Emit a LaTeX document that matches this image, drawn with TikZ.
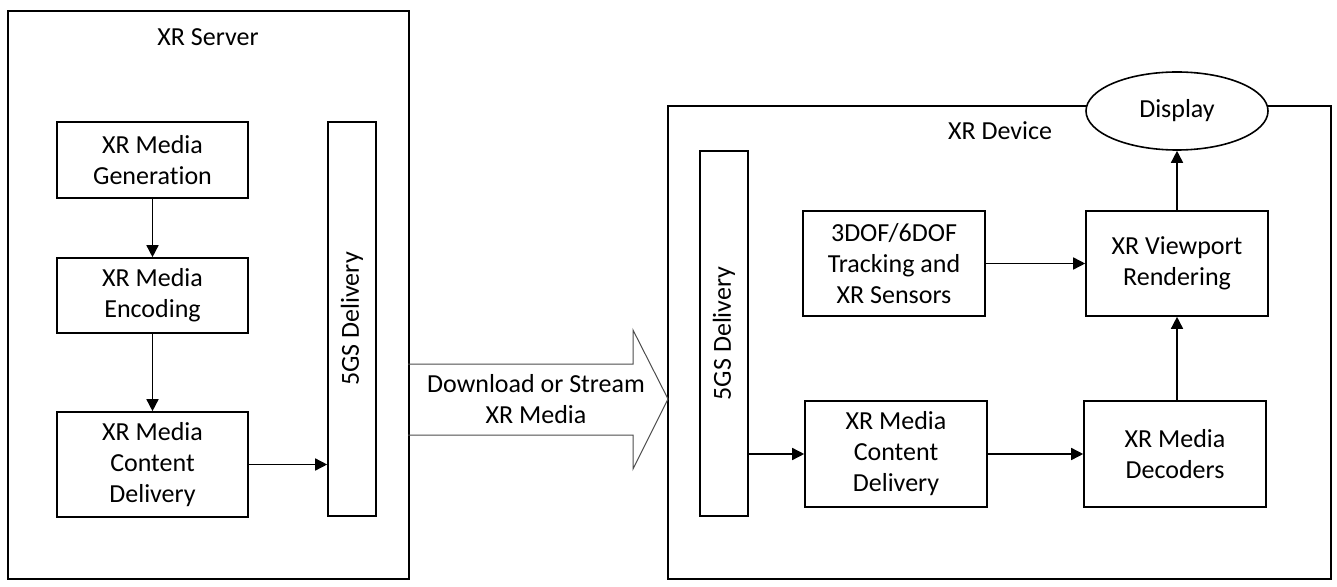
\documentclass[tikz,border=0pt]{standalone}
\usepackage{fontspec}
\setmainfont{Carlito}[Ligatures={NoCommon}]
\usetikzlibrary{arrows.meta,shapes.geometric}

\begin{document}
\begin{tikzpicture}
[x=0.5pt, y=-0.5pt, font=\fontsize{13pt}{15.5pt}\selectfont]

\tikzstyle{block}=[rectangle, draw, line width=0.8pt, align=center, minimum width=91pt, inner sep=0pt]
\tikzstyle{bar}=[rectangle, draw, line width=0.8pt, minimum width=24pt, inner sep=0pt]
\tikzstyle{frame}=[rectangle, draw, line width=0.8pt, inner sep=0pt]
\tikzstyle{flow}=[-{Triangle[length=6pt,width=6pt]}, line width=0.75pt]

\useasboundingbox (0,0) rectangle (1337,587);

% server side
\node[frame]	(SRV)	at (208.5,295)	[minimum width=200.5pt, minimum height=284pt]	{};
\node		(SRVt)	at (208,37)	{XR Server};
\node[block]	(GEN)	at (152.5,160)	[minimum width=95.5pt, minimum height=38pt]	{XR Media\\Generation};
\node[block]	(ENC)	at (152.5,295.5)	[minimum width=95.5pt, minimum height=37.5pt]	{XR Media\\Encoding};
\node[block]	(SCD)	at (152.5,464.5)	[minimum width=95.5pt, minimum height=52.5pt]	{XR Media\\Content\\Delivery};
\node[bar]	(SBAR)	at (352,319)	[minimum height=197pt]	{};
\node[rotate=90]	at (SBAR)	{5GS Delivery};

% device side
\node[frame]	(DEV)	at (999.5,342.5)	[minimum width=331.5pt, minimum height=236.5pt]	{};
\node		(DEVt)	at (1000,131)	{XR Device};
\node[ellipse, draw, fill=white, line width=0.8pt, minimum width=91pt, minimum height=39pt, inner sep=0pt]	(DSP)	at (1177,111)	{Display};
\node[bar]	(DBAR)	at (724,333.5)	[minimum height=182.5pt]	{};
\node[rotate=90]	at (DBAR)	{5GS Delivery};
\node[block]	(TRK)	at (894,263.5)	[minimum height=52.5pt]	{3DOF/6DOF\\Tracking and\\XR Sensors};
\node[block]	(VPR)	at (1177,263.5)	[minimum height=52.5pt]	{XR Viewport\\Rendering};
\node[block]	(DCD)	at (896,454)	[minimum height=53pt]	{XR Media\\Content\\Delivery};
\node[block]	(DEC)	at (1175,454)	[minimum height=53pt]	{XR Media\\Decoders};

% big arrow between both sides
\draw[line width=0.5pt, draw=black!70] (408,364) -- (633,364) -- (633,330) -- (668,399) -- (633,469) -- (633,435) -- (408,435);
\node[align=center]	(DL)	at (536,399)	{Download or Stream\\XR Media};

\draw [flow] (GEN) -- (ENC);
\draw [flow] (ENC) -- (SCD);
\draw [flow] (SCD.east) -- (SCD.east -| SBAR.west);
\draw [flow] (DBAR.east |- DCD.west) -- (DCD.west);
\draw [flow] (DCD) -- (DEC);
\draw [flow] (DEC.north -| VPR.south) -- (VPR.south);
\draw [flow] (VPR) -- (DSP);
\draw [flow] (TRK) -- (VPR);
\end{tikzpicture}
\end{document}
